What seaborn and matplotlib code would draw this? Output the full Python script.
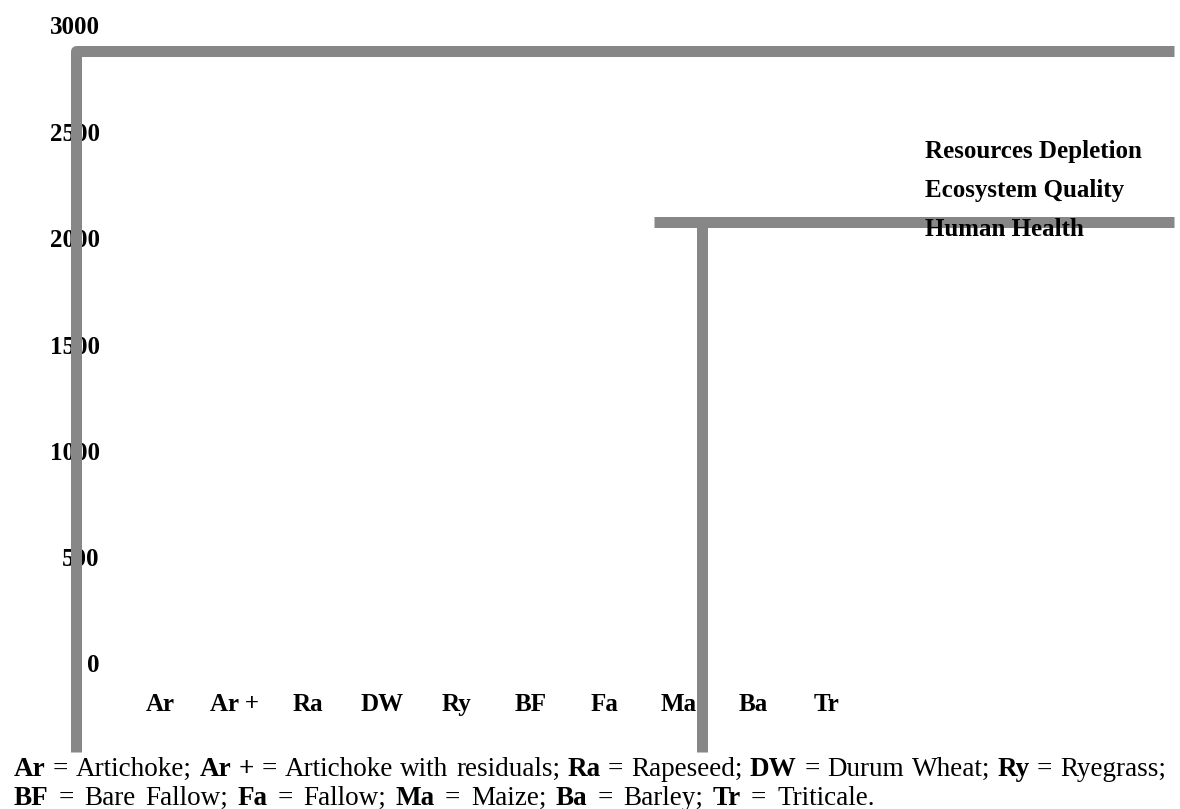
import matplotlib
matplotlib.use("Agg")
import matplotlib.pyplot as plt
import matplotlib.transforms as mtransforms
from matplotlib.lines import Line2D
from matplotlib.patches import Patch
import seaborn as sns
import pandas as pd

# ---------------- data ----------------
categories = ["Ar", "Ar +", "Ra", "DW", "Ry", "BF", "Fa", "Ma", "Ba", "Tr"]
human_health = [0, 0, 0, 0, 0, 0, 0, 0, 0, 0]
ecosystem_quality = [0, 0, 0, 0, 0, 0, 0, 0, 0, 0]
resources_depletion = [0, 0, 0, 0, 0, 0, 0, 0, 0, 0]
series_names = ["Human Health", "Ecosystem Quality", "Resources Depletion"]
legend_labels = ["Resources Depletion", "Ecosystem Quality", "Human Health"]
y_ticks = [0, 500, 1000, 1500, 2000, 2500, 3000]
caption_line1 = [("Ar", True), ("=", False), ("Artichoke;", False), ("Ar", True), ("+", True),
                 ("=", False), ("Artichoke", False), ("with", False), ("residuals;", False),
                 ("Ra", True), ("=", False), ("Rapeseed;", False), ("DW", True), ("=", False),
                 ("Durum", False), ("Wheat;", False), ("Ry", True), ("=", False), ("Ryegrass;", False)]
caption_line2 = [("BF", True), ("=", False), ("Bare", False), ("Fallow;", False), ("Fa", True),
                 ("=", False), ("Fallow;", False), ("Ma", True), ("=", False), ("Maize;", False),
                 ("Ba", True), ("=", False), ("Barley;", False), ("Tr", True), ("=", False),
                 ("Triticale.", False)]

df = pd.DataFrame({"category": categories, "Human Health": human_health,
                   "Ecosystem Quality": ecosystem_quality,
                   "Resources Depletion": resources_depletion})

# ---------------- style ----------------
sns.set_theme(style="white")
plt.rcParams["font.family"] = ["Liberation Serif", "DejaVu Serif"]
plt.rcParams["text.color"] = "black"
plt.rcParams["xtick.color"] = "black"
plt.rcParams["ytick.color"] = "black"

W, H = 1180, 809
fig = plt.figure(figsize=(W / 100, H / 100), dpi=100)
fig.patch.set_facecolor("white")

AX_L, AX_R, AX_T, AX_B = 104, 1174, 25.5, 663.5
ax = fig.add_axes([AX_L / W, 1 - AX_B / H, (AX_R - AX_L) / W, (AX_B - AX_T) / H])

series_colors = {"Human Health": "#4472c4", "Ecosystem Quality": "#ed7d31",
                 "Resources Depletion": "#a5a5a5"}
for name in series_names:
    sns.barplot(data=df, x="category", y=name, order=categories, color=series_colors[name],
                ax=ax, errorbar=None, linewidth=0)

STEP = 74.1
FIRST = 160
ax.set_xlim((AX_L - FIRST) / STEP, (AX_R - FIRST) / STEP)
ax.set_ylim(0, 3000)
ax.set_yticks(y_ticks)
ax.set_yticklabels([str(v) for v in y_ticks], fontsize=18, fontweight="bold", color="black")
ax.set_xticks(range(len(categories)))
ax.set_xticklabels(categories, fontsize=18, fontweight="bold", color="black")
ax.tick_params(axis="y", length=0, pad=3)
ax.tick_params(axis="x", length=0, pad=21.5)
ax.set_xlabel("")
ax.set_ylabel("")
for s in ax.spines.values():
    s.set_visible(False)
ax.patch.set_alpha(0)

# ---------------- legend ----------------
handles = [Patch(facecolor="none", edgecolor="none", label=l) for l in legend_labels]
leg = ax.legend(handles=handles, loc="upper left", bbox_to_anchor=(925 / W, 1 - 140 / H),
                bbox_transform=fig.transFigure, frameon=False, handlelength=0,
                handletextpad=0, borderpad=0, borderaxespad=0, labelspacing=0.65,
                labelcolor="black",
                prop={"family": "Liberation Serif", "weight": "bold", "size": 18})
for h in leg.legend_handles:
    h.set_visible(False)
leg.set_zorder(6)

# ---------------- grey artefact lines ----------------
def fx(x):
    return x / W

def fy(y):
    return 1 - y / H

GREY = "#878787"
LW = 11 * 72 / 100
frame = Line2D([fx(75.5), fx(75.5), fx(1174)], [fy(752), fy(50.5), fy(50.5)],
               transform=fig.transFigure, color=GREY, lw=LW, solid_joinstyle="round",
               solid_capstyle="butt", zorder=3)
bar_top = Line2D([fx(654), fx(1174)], [fy(222.5), fy(222.5)], transform=fig.transFigure,
                 color=GREY, lw=LW, solid_capstyle="butt", zorder=3)
bar_side = Line2D([fx(701.5), fx(701.5)], [fy(222.5), fy(752)], transform=fig.transFigure,
                  color=GREY, lw=LW, solid_capstyle="butt", zorder=3)
for ln in (frame, bar_top, bar_side):
    ax.add_line(ln)
    ln.set_clip_on(False)

# ---------------- caption ----------------
renderer = fig.canvas.get_renderer()
ident = mtransforms.IdentityTransform()


def measure(t, bold, size):
    tx = fig.text(0, 0, t, fontsize=size, fontweight="bold" if bold else "normal",
                  transform=ident)
    w = tx.get_window_extent(renderer).width
    tx.remove()
    return w


def draw_line(tokens, x0, x1, baseline, size):
    widths = [measure(t, b, size) for t, b in tokens]
    gap = (x1 - x0 - sum(widths)) / (len(tokens) - 1)
    x = x0
    for (t, b), w in zip(tokens, widths):
        fig.text(round(x), H - baseline, t, fontsize=size,
                 fontweight="bold" if b else "normal",
                 transform=ident, va="baseline", ha="left", color="black")
        x += w + gap


CAP_SIZE = 19.5
draw_line(caption_line1, 14, 1166, 776, CAP_SIZE)
draw_line(caption_line2, 14, 874, 805, CAP_SIZE)

fig.savefig("out.png", dpi=100, facecolor="white")
